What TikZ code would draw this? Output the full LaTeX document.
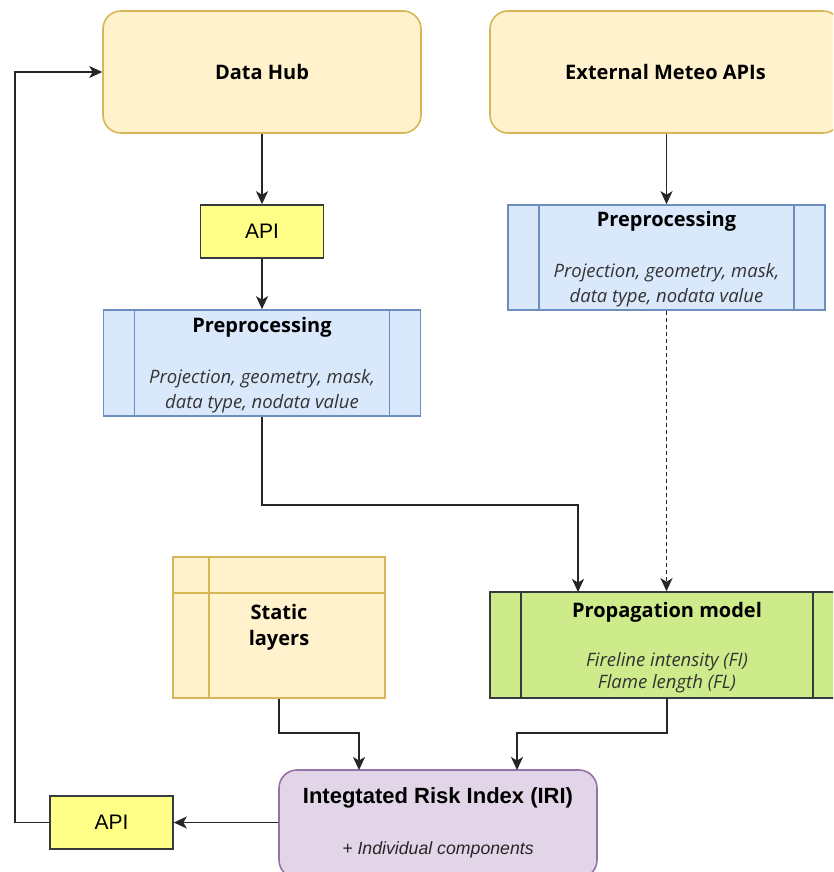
\documentclass[tikz,border=0pt]{standalone}
\usepackage{fontspec}
\setmainfont{Open Sans}
\newfontfamily\helv{Liberation Sans}
\usetikzlibrary{arrows.meta,calc}

\definecolor{ylwfill}{HTML}{FFF2CC}
\definecolor{ylwline}{HTML}{D6B656}
\definecolor{bluefill}{HTML}{DAE8FC}
\definecolor{blueline}{HTML}{6C8EBF}
\definecolor{grnfill}{HTML}{CDEB8B}
\definecolor{darkline}{HTML}{36393D}
\definecolor{purfill}{HTML}{E1D5E7}
\definecolor{purline}{HTML}{9673A6}
\definecolor{apifill}{HTML}{FFFF88}

\tikzset{
  box/.style={draw, line width=1.6pt, inner sep=0pt, anchor=center},
  source/.style={box, fill=ylwfill, draw=ylwline, rounded corners=18pt,
    font=\fontsize{20}{24}\selectfont\bfseries},
  apibox/.style={box, fill=apifill, draw=darkline,
    font=\helv\fontsize{21}{24}\selectfont},
  process/.style={box, path picture={
      \draw[line width=1.6pt, draw=#1]
        ([xshift=31pt]path picture bounding box.north west) --
        ([xshift=31pt]path picture bounding box.south west)
        ([xshift=-31pt]path picture bounding box.north east) --
        ([xshift=-31pt]path picture bounding box.south east);}},
  title/.style={font=\fontsize{20}{24}\selectfont\bfseries, inner sep=0pt},
  note/.style={font=\fontsize{18.5}{25}\selectfont\itshape, align=center,
    inner sep=0pt, text=black!80},
  conn/.style={line width=1.8pt, draw=black!85,
    -{Stealth[length=13pt,width=12pt,inset=3.5pt]}},
}

\begin{document}
\begin{tikzpicture}[x=1pt, y=-1pt]
  \useasboundingbox (0,0) rectangle (833,872);
  \clip (0,0) rectangle (833,872);

  % sources
  \node[source, minimum width=318pt, minimum height=122pt] (hub) at (262,72) {Data Hub};
  \node[source, minimum width=351pt, minimum height=122pt] (meteo) at (665.5,72) {External Meteo APIs};

  % API gateway of the data hub
  \node[apibox, minimum width=123pt, minimum height=53pt] (api1) at (262,231.5) {API};

  % preprocessing steps
  \node[process=blueline, fill=bluefill, draw=blueline, minimum width=317pt, minimum height=106pt] (pre1) at (262,363) {};
  \node[title] (pre1t) at (262,327) {Preprocessing};
  \node[note] (pre1n) at (262,391) {Projection, geometry, mask,\\data type, nodata value};

  \node[process=blueline, fill=bluefill, draw=blueline, minimum width=317pt, minimum height=105pt] (pre2) at (666.5,257.5) {};
  \node[title] (pre2t) at (666.5,221) {Preprocessing};
  \node[note] (pre2n) at (666.5,285) {Projection, geometry, mask,\\data type, nodata value};

  % static layers (internal storage shape)
  \node[box, fill=ylwfill, draw=ylwline, minimum width=212pt, minimum height=141pt,
        path picture={
          \draw[line width=1.6pt, draw=ylwline]
            ([xshift=36pt]path picture bounding box.north west) --
            ([xshift=36pt]path picture bounding box.south west)
            ([yshift=-36pt]path picture bounding box.north west) --
            ([yshift=-36pt]path picture bounding box.north east);},
        font=\fontsize{20}{26}\selectfont\bfseries, align=center] (static) at (279,627.5) {Static\\layers};

  % propagation model
  \node[process=darkline, fill=grnfill, draw=darkline, minimum width=354pt, minimum height=106pt] (prop) at (667,645) {};
  \node[title] (propt) at (667,612) {Propagation model};
  \node[note, font=\fontsize{18.5}{22}\selectfont\itshape] (propn) at (667,673) {Fireline intensity (FI)\\Flame length (FL)};

  % integrated risk index
  \node[box, fill=purfill, draw=purline, rounded corners=18pt, minimum width=318pt, minimum height=108pt] (iri) at (438,824) {};
  \node[font=\helv\fontsize{22}{26}\selectfont\bfseries, inner sep=0pt] (irit) at (438,798) {Integtated Risk Index (IRI)};
  \node[font=\helv\fontsize{17.7}{20}\selectfont\itshape, inner sep=0pt, text=black!85] (irinote) at (438,850) {+ Individual components};

  \node[apibox, minimum width=123pt, minimum height=53pt] (api2) at (111.5,822.5) {API};

  % connectors
  \draw[conn] (api1.north |- hub.south) -- (api1.north);
  \draw[conn] (api1.south) -- (pre1.north);
  \draw[conn] (meteo.south -| pre2.north) -- (pre2.north);
  \draw[conn] (pre1.south) |- (578,505) -- (578,592) coordinate (propin1);
  \draw[conn, dashed, dash pattern=on 4pt off 3pt] (pre2.south) -- (pre2.south |- prop.north);
  \draw[conn] (static.south) |- (359,733) -- (359,770) coordinate (iriin1);
  \draw[conn] (prop.south) |- (517,733) -- (517,770) coordinate (iriin2);
  \draw[conn] (iri.west |- api2.east) -- (api2.east);
  \draw[conn] (api2.west) -| (15,72) -- (hub.west);
\end{tikzpicture}
\end{document}
